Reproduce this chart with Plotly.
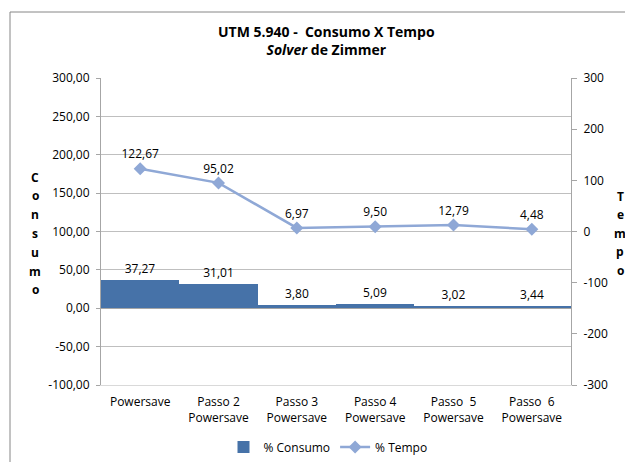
import plotly.graph_objects as go

categories = ["Powersave", "Passo 2<br>Powersave", "Passo 3<br>Powersave", "Passo 4<br>Powersave",
              "Passo  5<br>Powersave", "Passo  6<br>Powersave"]
consumo = [37.27, 31.01, 3.80, 5.09, 3.02, 3.44]
tempo = [122.67, 95.02, 6.97, 9.50, 12.79, 4.48]

left_ticks = [300, 250, 200, 150, 100, 50, 0, -50, -100]
left_tick_labels = ["300,00", "250,00", "200,00", "150,00", "100,00", "50,00", "0,00", "-50,00", "-100,00"]
right_ticks = [300, 200, 100, 0, -100, -200, -300]
right_tick_labels = ["300", "200", "100", "0", "-100", "-200", "-300"]
left_title = "Consumo"
right_title = "Tempo"

FONT = "Open Sans"
OFF = 8  # default page body margin
W, H = 633 - OFF, 462 - OFF
ML, MT = 101 - OFF, 78 - OFF
PR, PB = 571 - OFF, 385 - OFF
MR, MB = W - PR, H - PB
PW, PH = W - ML - MR, H - MT - MB


def px(x):
    return (x - OFF - ML) / PW


def py(y):
    return (H - (y - OFF) - MB) / PH


fig = go.Figure()
fig.add_trace(go.Bar(
    x=categories, y=consumo, name="% Consumo",
    marker=dict(color="#4672A8", line=dict(width=0)),
    text=[f"{v:.2f}".replace(".", ",") for v in consumo],
    textposition="outside", cliponaxis=False,
    textfont=dict(size=12, color="#000000", family=FONT),
))
fig.add_trace(go.Scatter(
    x=categories, y=tempo, name="% Tempo", yaxis="y2",
    mode="lines+markers+text",
    line=dict(color="#8FA8D6", width=2.5),
    marker=dict(symbol="diamond", size=10, color="#8FA8D6"),
    text=[f"{v:.2f}".replace(".", ",") for v in tempo],
    textposition="top center", cliponaxis=False,
    textfont=dict(size=12, color="#000000", family=FONT),
))

annotations = [
    dict(text="<b>UTM 5.940 -  Consumo X Tempo</b><br><b><i>Solver</i> de Zimmer</b>",
         xref="paper", yref="paper", x=px(326), y=py(41),
         xanchor="center", yanchor="middle", showarrow=False,
         font=dict(size=14, family=FONT)),
]


def vertical_title(word, xc, yc, step=18.8):
    n = len(word)
    y0 = yc - step * (n - 1) / 2
    for i, ch in enumerate(word):
        annotations.append(dict(text=f"<b>{ch}</b>", xref="paper", yref="paper",
                                x=px(xc), y=py(y0 + i * step), xanchor="center", yanchor="middle",
                                showarrow=False, font=dict(size=12, family=FONT)))


vertical_title(left_title, 35, 233.5)
vertical_title(right_title, 620, 233, step=18.5)

axis_line = "#A6A6A6"
fig.update_layout(
    width=W, height=H,
    margin=dict(l=ML, r=MR, t=MT, b=MB, autoexpand=False),
    paper_bgcolor="white", plot_bgcolor="white",
    font=dict(family=FONT, size=12, color="#000000"),
    bargap=0,
    showlegend=True,
    legend=dict(orientation="h", x=px(328), xanchor="center", y=py(447), yanchor="middle",
                font=dict(size=12), bgcolor="rgba(0,0,0,0)"),
    xaxis=dict(showgrid=False, showline=True, linecolor="#D9D9D9", ticks="",
               tickfont=dict(size=12), tickangle=0, ticklabelstandoff=6),
    yaxis=dict(range=[-100, 300], tickvals=left_ticks, ticktext=left_tick_labels,
               showgrid=True, gridcolor="#BFBFBF", gridwidth=1,
               showline=True, linecolor=axis_line, ticks="outside", ticklen=4, tickcolor=axis_line,
               zeroline=True, zerolinecolor=axis_line, zerolinewidth=1,
               tickfont=dict(size=12), ticklabelstandoff=4),
    yaxis2=dict(range=[-300, 300], tickvals=right_ticks, ticktext=right_tick_labels,
                overlaying="y", side="right", showgrid=False,
                showline=True, linecolor=axis_line, ticks="outside", ticklen=5, tickcolor=axis_line,
                zeroline=False, tickfont=dict(size=12), ticklabelstandoff=4),
    shapes=[dict(type="rect", xref="paper", yref="paper",
                 x0=px(10), x1=px(650), y0=py(480), y1=py(12),
                 line=dict(color="#868686", width=1), fillcolor="rgba(0,0,0,0)", layer="below")],
    annotations=annotations,
)

fig.write_html("out.html")
